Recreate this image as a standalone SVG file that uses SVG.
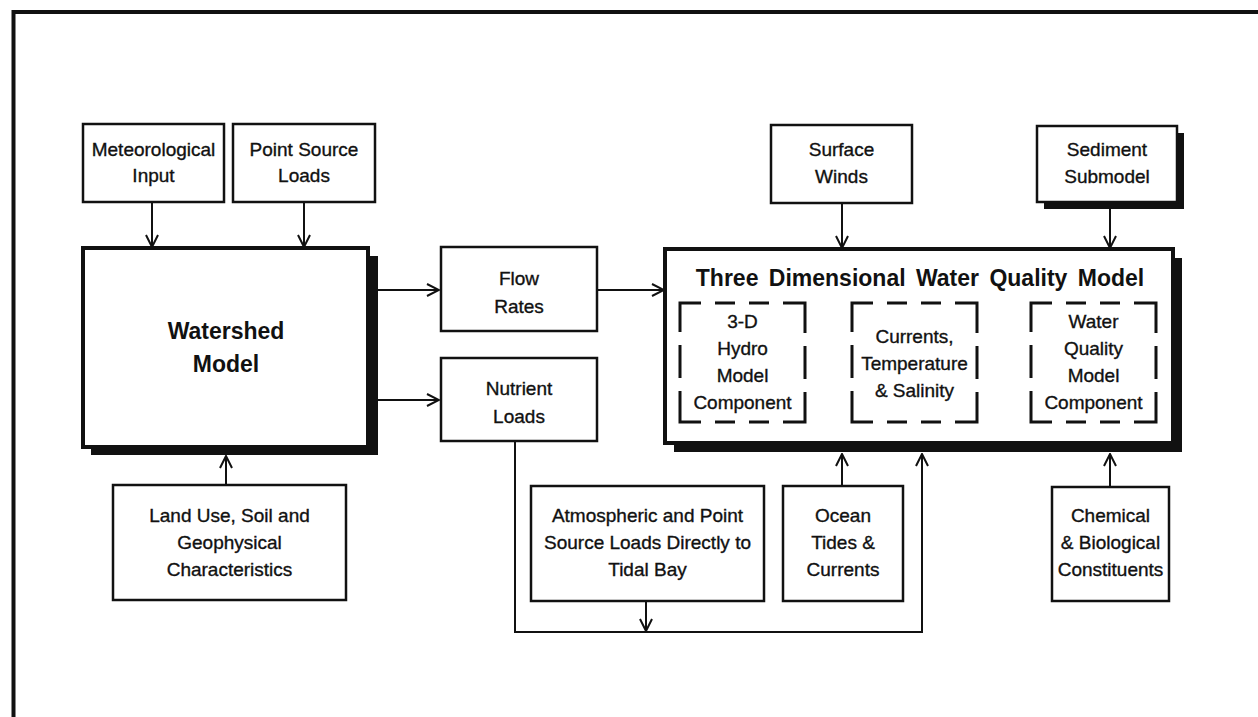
<svg xmlns="http://www.w3.org/2000/svg" width="1258" height="717" viewBox="0 0 1258 717">
<style>
  .box{fill:#fff;stroke:#111;stroke-width:2.5}
  .bigbox{fill:#fff;stroke:#111;stroke-width:4}
  .shadow{fill:#111;stroke:none}
  .dash{fill:none;stroke:#111;stroke-width:3;stroke-dasharray:21 14 20 14 20 14 52 13 33 13 52 14 20 14 20 14 52 13 33 13 30}
  .t{font-family:"Liberation Sans",Arial,Helvetica,sans-serif;font-size:19px;fill:#111;stroke:#111;stroke-width:0.35;text-anchor:middle}
  .tb{font-family:"Liberation Sans",Arial,Helvetica,sans-serif;font-size:23px;font-weight:bold;fill:#111;text-anchor:middle}
  .c{fill:none;stroke:#111;stroke-width:2}
  .frame{fill:none;stroke:#111;stroke-width:4}
</style>
<defs>
  <marker id="ah" viewBox="0 0 14 14" refX="13" refY="7" markerWidth="14" markerHeight="14" markerUnits="userSpaceOnUse" orient="auto">
    <path d="M1,1 L13,7 L1,13" fill="none" stroke="#111" stroke-width="2"/>
  </marker>
</defs>
<rect width="1258" height="717" fill="#fff"/>
<path class="frame" d="M13.5,717 V12 H1258"/>

<g id="connectors">
  <path class="c" d="M152,202 V247" marker-end="url(#ah)"/>
  <path class="c" d="M304,202 V247" marker-end="url(#ah)"/>
  <path class="c" d="M226,485 V456" marker-end="url(#ah)"/>
  <path class="c" d="M378,290 H439" marker-end="url(#ah)"/>
  <path class="c" d="M378,400 H439" marker-end="url(#ah)"/>
  <path class="c" d="M597,290 H664" marker-end="url(#ah)"/>
  <path class="c" d="M842,203 V248" marker-end="url(#ah)"/>
  <path class="c" d="M1110,209 V248" marker-end="url(#ah)"/>
  <path class="c" d="M842,486 V454" marker-end="url(#ah)"/>
  <path class="c" d="M1110,487 V454" marker-end="url(#ah)"/>
  <path class="c" d="M515,440 V632 H922 V454" marker-end="url(#ah)"/>
  <path class="c" d="M646,601 V631" marker-end="url(#ah)"/>
  <path class="c" d="M805,363 H851" marker-end="url(#ah)"/>
  <path class="c" d="M977,363 H1030" marker-end="url(#ah)"/>
</g>

<g id="meteorological">
  <rect class="box" x="83" y="124" width="141" height="78"/>
  <text class="t" x="153.5" y="156">Meteorological</text>
  <text class="t" x="153.5" y="182">Input</text>
</g>
<g id="pointsource">
  <rect class="box" x="233" y="124" width="142" height="78"/>
  <text class="t" x="304" y="156">Point Source</text>
  <text class="t" x="304" y="182">Loads</text>
</g>
<g id="watershed">
  <rect class="shadow" x="91" y="256" width="287" height="199"/>
  <rect class="bigbox" x="83" y="248" width="285" height="199"/>
  <text class="tb" x="226" y="339">Watershed</text>
  <text class="tb" x="226" y="372">Model</text>
</g>
<g id="landuse">
  <rect class="box" x="113" y="485" width="233" height="115"/>
  <text class="t" x="229.5" y="522">Land Use, Soil and</text>
  <text class="t" x="229.5" y="549">Geophysical</text>
  <text class="t" x="229.5" y="576">Characteristics</text>
</g>
<g id="flowrates">
  <rect class="box" x="441" y="247" width="156" height="84"/>
  <text class="t" x="519" y="285">Flow</text>
  <text class="t" x="519" y="313">Rates</text>
</g>
<g id="nutrient">
  <rect class="box" x="441" y="358" width="156" height="83"/>
  <text class="t" x="519" y="395">Nutrient</text>
  <text class="t" x="519" y="423">Loads</text>
</g>
<g id="surfacewinds">
  <rect class="box" x="771" y="125" width="141" height="78"/>
  <text class="t" x="841.5" y="156">Surface</text>
  <text class="t" x="841.5" y="183">Winds</text>
</g>
<g id="sediment">
  <rect class="shadow" x="1044" y="133" width="140" height="76"/>
  <rect class="box" x="1037" y="126" width="140" height="76"/>
  <text class="t" x="1107" y="156">Sediment</text>
  <text class="t" x="1107" y="183">Submodel</text>
</g>
<g id="wqmodel">
  <rect class="shadow" x="674" y="258" width="508" height="194"/>
  <rect class="bigbox" x="665" y="249" width="508" height="194"/>
  <text class="tb" x="920" y="286" word-spacing="4">Three Dimensional Water Quality Model</text>
</g>
<g id="hydro">
  <path class="dash" d="M680,303 H805 V422 H680 Z"/>
  <text class="t" x="742.5" y="328">3-D</text>
  <text class="t" x="742.5" y="355">Hydro</text>
  <text class="t" x="742.5" y="382">Model</text>
  <text class="t" x="742.5" y="409">Component</text>
</g>
<g id="currents">
  <path class="dash" d="M852,303 H977 V422 H852 Z"/>
  <text class="t" x="914.5" y="343">Currents,</text>
  <text class="t" x="914.5" y="370">Temperature</text>
  <text class="t" x="914.5" y="397">&amp; Salinity</text>
</g>
<g id="wqcomponent">
  <path class="dash" d="M1031,303 H1156 V422 H1031 Z"/>
  <text class="t" x="1093.5" y="328">Water</text>
  <text class="t" x="1093.5" y="355">Quality</text>
  <text class="t" x="1093.5" y="382">Model</text>
  <text class="t" x="1093.5" y="409">Component</text>
</g>
<g id="atmospheric">
  <rect class="box" x="531" y="486" width="233" height="115"/>
  <text class="t" x="647.5" y="522">Atmospheric and Point</text>
  <text class="t" x="647.5" y="549">Source Loads Directly to</text>
  <text class="t" x="647.5" y="576">Tidal Bay</text>
</g>
<g id="ocean">
  <rect class="box" x="783" y="486" width="120" height="115"/>
  <text class="t" x="843" y="522">Ocean</text>
  <text class="t" x="843" y="549">Tides &amp;</text>
  <text class="t" x="843" y="576">Currents</text>
</g>
<g id="chemical">
  <rect class="box" x="1052" y="487" width="117" height="114"/>
  <text class="t" x="1110.5" y="522">Chemical</text>
  <text class="t" x="1110.5" y="549">&amp; Biological</text>
  <text class="t" x="1110.5" y="576">Constituents</text>
</g>
</svg>
